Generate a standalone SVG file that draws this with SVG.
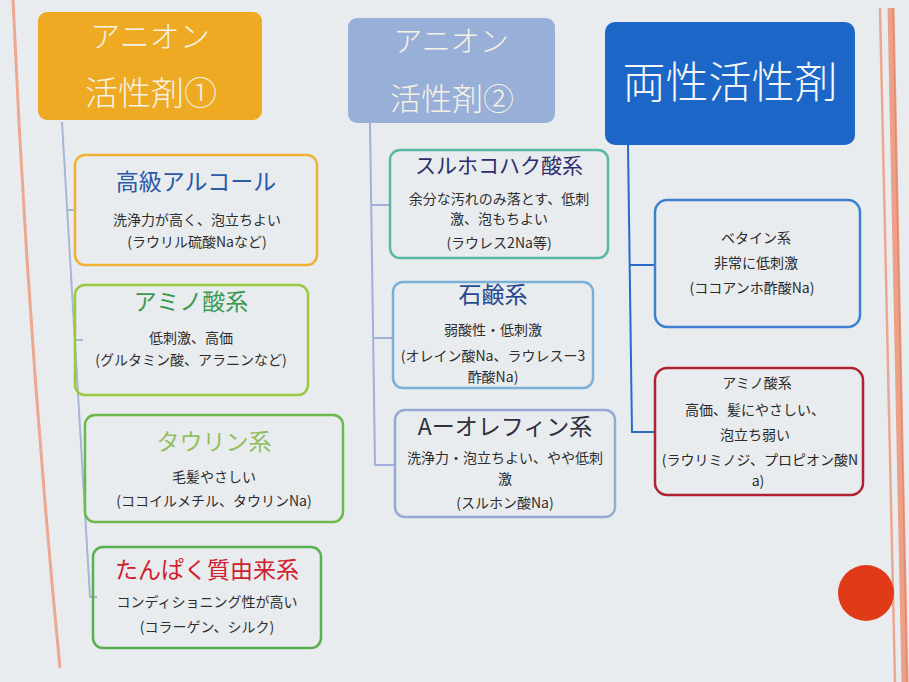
<svg xmlns="http://www.w3.org/2000/svg" width="909" height="682" viewBox="0 0 909 682">
<style>
text{font-family:"Noto Sans CJK JP","Liberation Sans",sans-serif;text-anchor:middle}
.hd{fill:#f6f2e6;font-weight:300}
.box{fill:none;stroke-width:2.5}
.t{font-size:23px}
.s{font-size:14px;fill:#2e2e2e}
.c3{font-size:14px;fill:#2a2a2a}
.con{fill:none;stroke-width:2}
</style>
<rect width="909" height="682" fill="#e9ecef"/>
<path d="M13,0 Q28,340 60,668" fill="none" stroke="#eea892" stroke-width="3"/>
<path d="M880,8 L895,682" fill="none" stroke="#eba890" stroke-width="2.5"/>
<path d="M891,8 L905,682" fill="none" stroke="#eca088" stroke-width="7"/>
<path d="M893,8 L907,682" fill="none" stroke="#e58a70" stroke-width="1.5"/>
<circle cx="866" cy="593" r="28" fill="#e03a18"/>

<g id="connectors">
<path class="con" stroke="#a8b6d6" d="M62,122 L90,597 L97,597 M67,210 L75,210 M75,340 L83,340 M83,470 L85,470"/>
<path class="con" stroke="#a0b0d8" d="M370,123 L375,465 L395,465 M371,205 L390,205 M373,338 L393,338"/>
<path class="con" stroke="#2a6ac8" d="M628,145 L632,432 L655,432 M630,265 L655,265"/>
</g>

<g id="h1">
<rect x="38" y="12" width="224" height="108" rx="9" fill="#eeaa22"/>
<text class="hd" x="150" y="47" font-size="30">アニオン</text>
<text class="hd" x="151" y="105" font-size="33">活性剤①</text>
</g>
<g id="h2">
<rect x="348" y="18" width="207" height="105" rx="9" fill="#98afd8"/>
<text class="hd" x="451" y="52" font-size="29">アニオン</text>
<text class="hd" x="452" y="110" font-size="31">活性剤②</text>
</g>
<g id="h3">
<rect x="605" y="22" width="250" height="123" rx="10" fill="#1b66c6"/>
<text x="730" y="98" font-size="43" fill="#f4f6fa" font-weight="300">両性活性剤</text>
</g>

<g id="b1">
<rect class="box" x="75" y="155" width="242" height="110" rx="10" stroke="#f0b234"/>
<text class="t" x="196" y="190" font-size="24" fill="#2a5aa8">高級アルコール</text>
<text class="s" x="197" y="225">洗浄力が高く、泡立ちよい</text>
<text class="s" x="197" y="247">(ラウリル硫酸Naなど)</text>
</g>
<g id="b2">
<rect class="box" x="75" y="285" width="233" height="110" rx="10" stroke="#9cc83e"/>
<text class="t" x="191" y="310" font-size="24" fill="#3a9a50">アミノ酸系</text>
<text class="s" x="191" y="343">低刺激、高価</text>
<text class="s" x="191" y="365">(グルタミン酸、アラニンなど)</text>
</g>
<g id="b3">
<rect class="box" x="85" y="415" width="258" height="107" rx="10" stroke="#6cb84c"/>
<text class="t" x="214" y="450" fill="#92c060">タウリン系</text>
<text class="s" x="214" y="482">毛髪やさしい</text>
<text class="s" x="214" y="506">(ココイルメチル、タウリンNa)</text>
</g>
<g id="b4">
<rect class="box" x="93" y="547" width="228" height="101" rx="10" stroke="#58b050"/>
<text class="t" x="207" y="578" fill="#d0202e">たんぱく質由来系</text>
<text class="s" x="207" y="607" font-size="13">コンディショニング性が高い</text>
<text class="s" x="207" y="632" font-size="13">(コラーゲン、シルク)</text>
</g>

<g id="b5">
<rect class="box" x="390" y="150" width="218" height="108" rx="10" stroke="#5cb8a6"/>
<text x="499" y="173" font-size="21" fill="#2e2e6e">スルホコハク酸系</text>
<text class="s" x="499" y="204">余分な汚れのみ落とす、低刺</text>
<text class="s" x="499" y="224">激、泡もちよい</text>
<text class="s" x="499" y="248">(ラウレス2Na等)</text>
</g>
<g id="b6">
<rect class="box" x="393" y="282" width="200" height="106" rx="10" stroke="#7ab0d8"/>
<text class="t" x="493" y="303" fill="#284890">石鹸系</text>
<text class="s" x="493" y="335">弱酸性・低刺激</text>
<text class="s" x="493" y="361">(オレイン酸Na、ラウレスー3</text>
<text class="s" x="493" y="382">酢酸Na)</text>
</g>
<g id="b7">
<rect class="box" x="395" y="410" width="220" height="107" rx="10" stroke="#94aad2"/>
<text class="t" x="505" y="435" font-size="24" fill="#30303e">Aーオレフィン系</text>
<text class="s" x="505" y="463">洗浄力・泡立ちよい、やや低刺</text>
<text class="s" x="505" y="484">激</text>
<text class="s" x="505" y="508">(スルホン酸Na)</text>
</g>

<g id="b8">
<rect class="box" x="655" y="200" width="205" height="127" rx="12" stroke="#3c80d0"/>
<text class="c3" x="756" y="243">ベタイン系</text>
<text class="c3" x="756" y="268" font-size="16">非常に低刺激</text>
<text class="c3" x="752" y="293">(ココアンホ酢酸Na)</text>
</g>
<g id="b9">
<rect class="box" x="655" y="368" width="208" height="127" rx="12" stroke="#b02232"/>
<text class="c3" x="757" y="388">アミノ酸系</text>
<text class="c3" x="755" y="415" font-size="15">高価、髪にやさしい、</text>
<text class="c3" x="755" y="440" font-size="15">泡立ち弱い</text>
<text class="c3" x="760" y="465">(ラウリミノジ、プロピオン酸N</text>
<text class="c3" x="758" y="486">a)</text>
</g>
</svg>
